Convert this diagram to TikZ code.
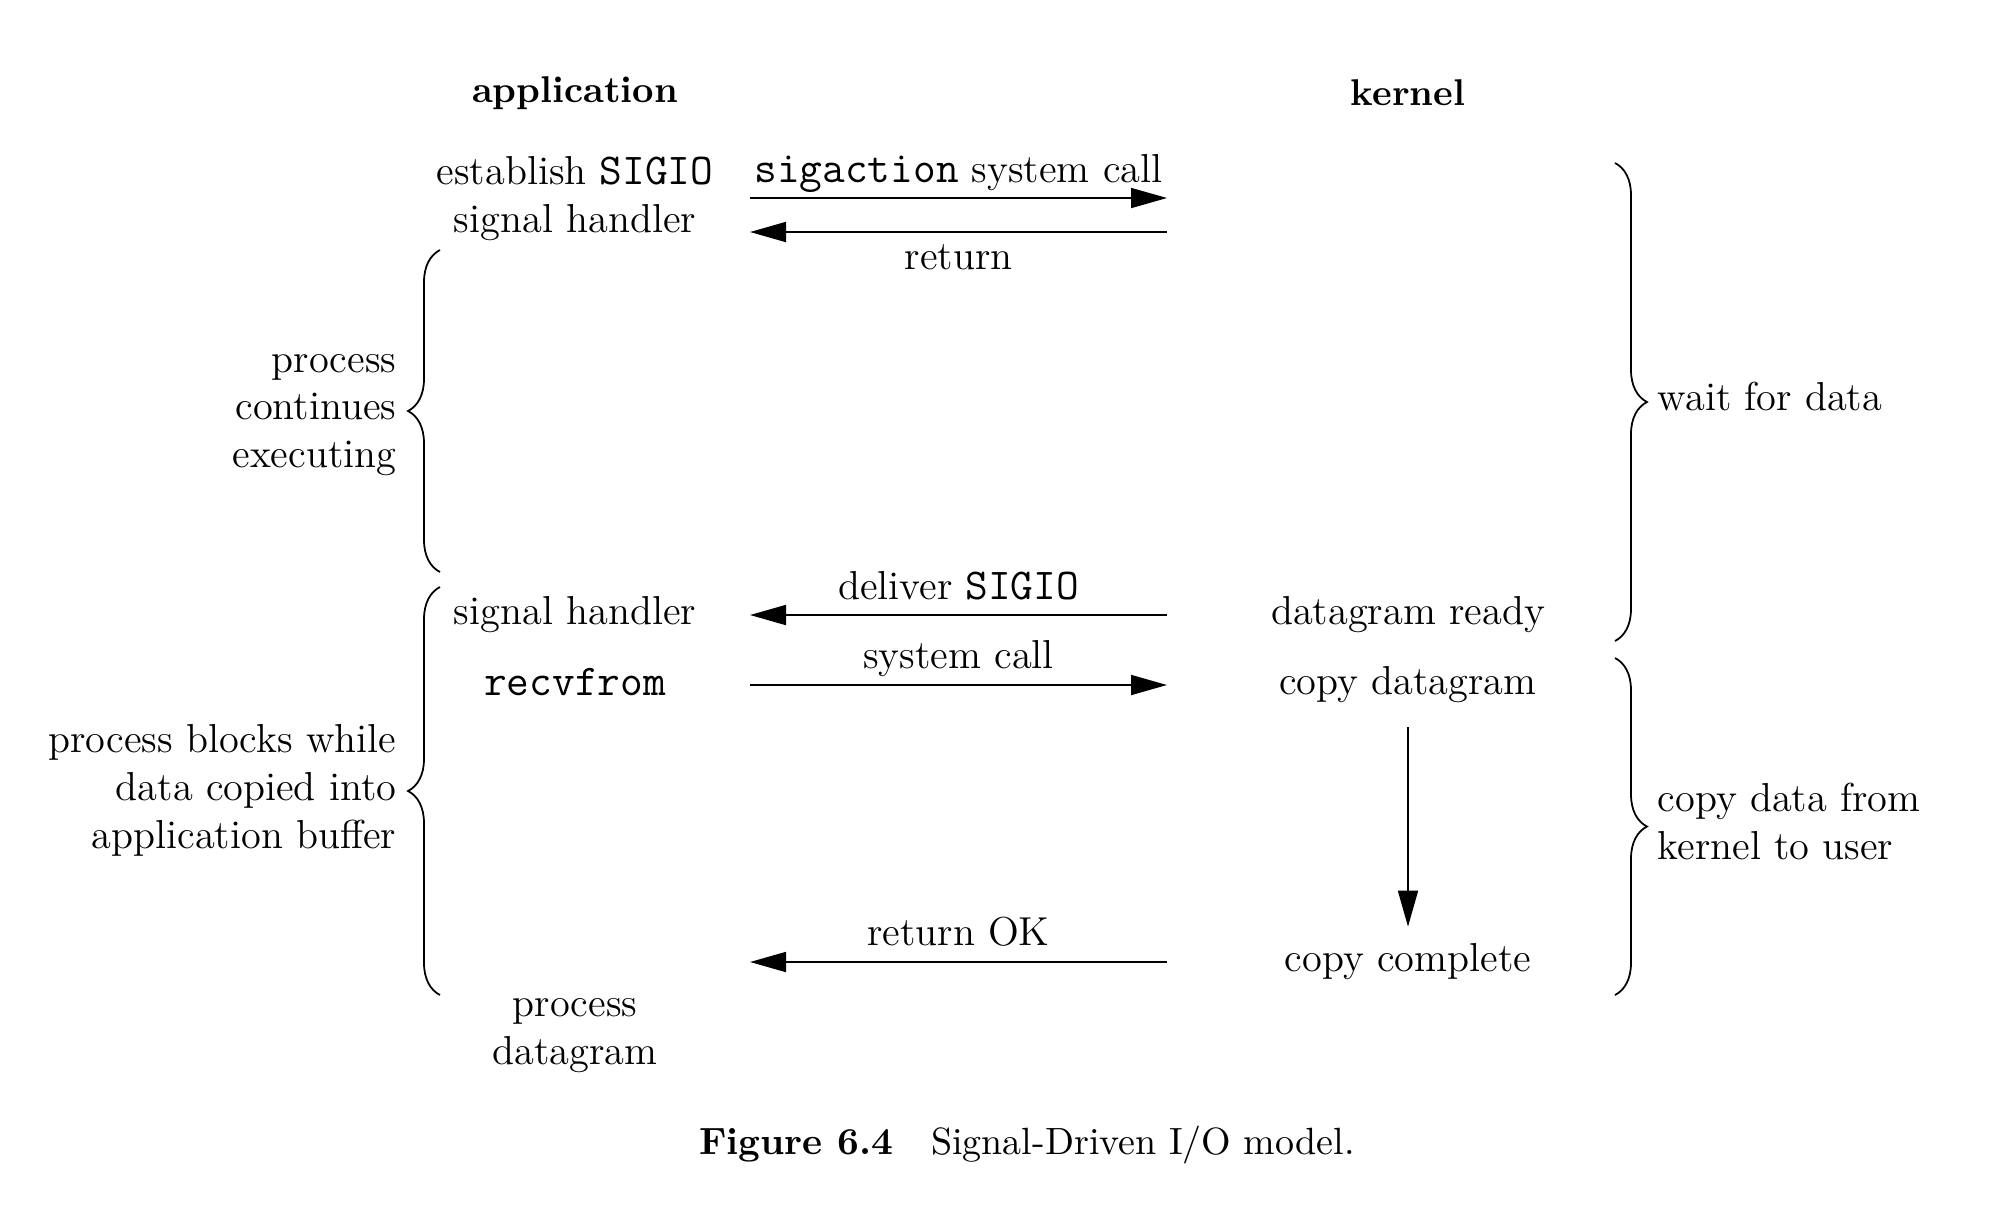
\documentclass[tikz,border=0pt]{standalone}
\usepackage{fontspec}
\setmonofont[Scale=1.09]{Latin Modern Mono}
\usetikzlibrary{arrows.meta,positioning,decorations.pathreplacing}
\tikzset{
  lbl/.style={font=\fontsize{11.5}{13.6}\selectfont, align=center, inner sep=0pt},
  hdr/.style={lbl, font=\fontsize{10.6}{13.6}\selectfont\bfseries},
  arr/.style={-{Triangle[length=3.6mm,width=2mm]}, line width=0.5pt},
  brc/.style={decorate, decoration={brace, amplitude=3.2mm}, line width=0.5pt},
}

\begin{document}
\begin{tikzpicture}
  \useasboundingbox (0,0) rectangle (20,-12.06);
  % column heads
  \node[hdr] (app) at (5.75,-0.93) {application};
  \node[hdr] (kern) at (14.08,-0.93) {kernel};
  % application side
  \node[lbl] (estab) at (5.75,-1.985) {establish \texttt{SIGIO}\\signal handler};
  \node[lbl] (hand) at (5.75,-6.145) {signal handler};
  \node[lbl] (recv) at (5.75,-6.82) {\texttt{recvfrom}};
  \node[lbl] (proc) at (5.75,-10.36) {process\\datagram};
  % kernel side
  \node[lbl] (ready) at (14.08,-6.145) {datagram ready};
  \node[lbl] (copy) at (14.08,-6.845) {copy datagram};
  \node[lbl] (done) at (14.08,-9.615) {copy complete};
  % arrow ends
  \coordinate (a1) at (7.5,-1.98);  \coordinate (k1) at (11.67,-1.98);
  \coordinate (a2) at (7.5,-2.32);  \coordinate (k2) at (11.67,-2.32);
  \coordinate (a3) at (7.5,-6.15);  \coordinate (k3) at (11.67,-6.15);
  \coordinate (a4) at (7.5,-6.85);  \coordinate (k4) at (11.67,-6.85);
  \coordinate (a5) at (7.5,-9.62);  \coordinate (k5) at (11.67,-9.62);
  \draw[arr] (a1) -- node[lbl, above=0.5mm] (sigact) {\texttt{sigaction} system call} (k1);
  \draw[arr] (k2) -- node[lbl, below=1.2mm] (ret) {return} (a2);
  \draw[arr] (k3) -- node[lbl, above=1.45mm] (deliv) {deliver \texttt{SIGIO}} (a3);
  \draw[arr] (a4) -- node[lbl, above=0.7mm] (sysc) {system call} (k4);
  \draw[arr] (k5) -- node[lbl, above=1.45mm] (retok) {return OK} (a5);
  \draw[arr] ([yshift=-2.4mm]copy.south) -- ([yshift=1.6mm]done.north);
  % braces
  \draw[brc] (4.40,-5.72) -- (4.40,-2.50);
  \draw[brc] (4.40,-9.95) -- (4.40,-5.87);
  \draw[brc] (16.15,-1.63) -- (16.15,-6.41);
  \draw[brc] (16.15,-6.58) -- (16.15,-9.95);
  \node[lbl, align=right, anchor=east] (cont) at (3.97,-4.15) {process\\continues\\executing};
  \node[lbl, align=right, anchor=east] (blocks) at (3.97,-7.905) {process blocks while\\data copied into\\application buffer};
  \node[lbl, align=left, anchor=west] (wait) at (16.57,-3.965) {wait for data};
  \node[lbl, align=left, anchor=west] (kcopy) at (16.57,-8.215) {copy data from\\kernel to user};
  % caption
  \node[lbl, font=\fontsize{10.8}{13}\selectfont] (cap) at (10.27,-11.445) {\textbf{Figure 6.4}\quad Signal-Driven I/O model.};
\end{tikzpicture}
\end{document}
